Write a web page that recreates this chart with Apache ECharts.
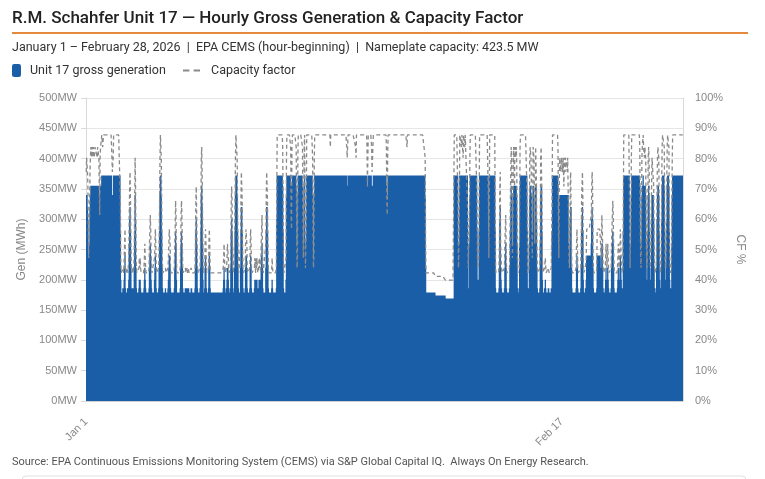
<!DOCTYPE html>
<html>
<head>
<meta charset="utf-8">
<title>R.M. Schahfer Unit 17</title>
<script src="https://cdn.jsdelivr.net/npm/echarts@6/dist/echarts.min.js"></script>
<style>
  html, body { margin: 0; padding: 0; background: #fff; }
  #main { width: 765px; height: 479px; }
</style>
</head>
<body>
<div id="main"></div>
<script>
// nameplate used for capacity factor
const NAMEPLATE_MW = 423.5;
const START_DAY = Date.UTC(2026, 0, 1);

// hourly generation, one letter per hour, one string per day
// letter -> MW via levelMW
const levelCodes = 'yzabcdefghijkl';
const levelMW = [169, 174, 179, 186, 200, 220, 240, 260, 280, 300, 320, 340, 355, 372];
const dayProfiles = [
  'ijjiheccfijkkjkkjkkjjkkk', // Jan 1
  'kkjkkkjhfjkkkllkklllllll',
  'llllllllllllljiijlllllll',
  'lllllllllgcaaaabbacdebaa',
  'aabaacfhigdbaabaabdgjhdb',
  'aaaaabcbcbaaaaaaabcdcbaa',
  'aaaaabdefecbaaaaaacdedba',
  'aaaabdgjlljgdbaaaaaabaaa',
  'aabcdeedbaaaaaaaabdegfca',
  'aaaaaaabdfgfdbaaaaabbaab',
  'aabbaaaaabbaaaaaaabdghfd', // Jan 11
  'baaaaabdgjkifcaaabdedbaa',
  'aabdedbaaaaaaaaaaaaaaaaa',
  'aaaaaaaaaaaaabcdcbaaabcd',
  'dcbaaabdghgdbaaadgjllljg',
  'dbaaaadgiigdbaaaabdeedba',
  'aaaabdedbaaaaaabcbacbcba',
  'abcbcbadefdbaaaaaadgiigd',
  'baaaaaaabcbaaaaaaaabhlll',
  'llllllllllkgbaaaaacjllll',
  'lllllkfeklllllllllkfbcjl', // Jan 21
  'lllllllllkfcfklfbbflllll',
  'llllllllljebcjllllllllll',
  'llllllllllllllllllllllll',
  'lllkllllllllllllllllllll',
  'llllllllllllllllllkjklll',
  'lllllllllllllllkjlllllll',
  'llllllllllllllllllkhjlll',
  'lllllkiiklllllllllllllll',
  'llllllllllllllllkgfjllll',
  'llllllllllllllllllllllll', // Jan 31
  'lllllllllllllllllkllllll', // Feb 1
  'llllllllllllllllllllllll',
  'lllllllllllljdaaaaaaaaaa',
  'aaaaaaaaaaaazzzzzzzzzzzz',
  'zzzzzzzzzzzzyyyyyyyyyyyy',
  'yyyyyyyyylllllllllfbbfll',
  'llkllljlllkllllllfbbbfjl',
  'lllllllllllllllgcbbcglll',
  'llllllllllllllllllgcglll',
  'llllllllllgbaaaaaaabdhid', // Feb 10
  'cbaaaaaabdefdbaaaaaabdgi',
  'kjfcfjkkhkkjkjfbaaabfkll',
  'llllllllllllllgbaabfjkkj',
  'jfcgkkjgdgkkhdbaaaaabfjk',
  'kgcaaaabbcbaaaaabbaaaaab',
  'bglllllllllllllkfchjjjij',
  'jjijjhjjijjjjijjfcbdhiid', // Feb 17
  'baaaaaaaaabdedbaaaaaabdg',
  'higcaaaabbceeeeeeeeeeefh',
  'ihdbaaaaaaabeeeeeeeedcdf', // Feb 20
  'fdbaaaabcdcbcdcbaaaaabde',
  'fgfdbaaaaaaabcdcbcdedcba',
  'abgllllllllllllllfbbfjll',
  'lllllllllllllllllkfcbfjk',
  'klkkjkkjfcbcgjkjgcbbdhjj',
  'jjhdbaaabdhjkkjgcbabdhkl',
  'lllkgcbbdhklllkgcbaabfjl',
  'llllllllllllllllllllllll'  // Feb 28
];

// axis ticks
const genAxisMax = 500;
const genAxisStep = 50;
const cfAxisMax = 100;
const cfAxisStep = 10;

const MONTHS = ['Jan', 'Feb', 'Mar'];
const hourLabels = [];
const genMW = [];
const cfPct = [];
dayProfiles.forEach(function (day, d) {
  for (let h = 0; h < 24; h++) {
    const t = new Date(START_DAY + (d * 24 + h) * 3600000);
    hourLabels.push(MONTHS[t.getUTCMonth()] + ' ' + t.getUTCDate());
    const mw = levelMW[levelCodes.indexOf(day.charAt(h))];
    genMW.push(mw);
    cfPct.push(+(mw / NAMEPLATE_MW * 100).toFixed(1));
  }
});

const FONT = 'Roboto, "Liberation Sans", sans-serif';
const AXFONT = '"Liberation Sans", Arial, sans-serif';
// two short dashes for the capacity factor legend
const DASH_ICON = 'path://M0,0H6V2H0Z M10,0H16V2H10Z';

const myChart = echarts.init(document.getElementById('main'));
const option = {
  backgroundColor: '#fff',
  animation: false,
  title: [
    {
      text: 'R.M. Schahfer Unit 17 \u2014 Hourly Gross Generation & Capacity Factor',
      left: 12, top: 10, padding: 0,
      textStyle: {fontFamily: FONT, fontSize: 17, fontWeight: 500, color: '#222'},
    },
    {
      text: 'January 1 \u2013 February 28, 2026  |  EPA CEMS (hour-beginning)  |  Nameplate capacity: 423.5 MW',
      left: 12, top: 41, padding: 0,
      textStyle: {fontFamily: FONT, fontSize: 12.5, fontWeight: 'normal', color: '#333'},
    },
    {
      text: 'Source: EPA Continuous Emissions Monitoring System (CEMS) via S&P Global Capital IQ.  Always On Energy Research.',
      left: 12, top: 457, padding: 0,
      textStyle: {fontFamily: FONT, fontSize: 11, fontWeight: 'normal', color: '#555'},
    },
  ],
  graphic: [
    {type: 'line', shape: {x1: 12, y1: 33, x2: 748, y2: 33}, style: {stroke: '#e58a3c', lineWidth: 2}},
    {type: 'rect', shape: {x: 22, y: 476, width: 724, height: 20, r: 4}, style: {fill: 'none', stroke: '#e2e2e2', lineWidth: 1}},
  ],
  legend: [
    {
      data: [{name: 'Unit 17 gross generation', icon: 'roundRect'}],
      left: 12, top: 64, padding: 0,
      itemWidth: 9, itemHeight: 13,
      textStyle: {fontFamily: FONT, fontSize: 12.5, color: '#333', padding: [0, 0, 0, 4]},
    },
    {
      data: [{name: 'Capacity factor', icon: DASH_ICON, itemStyle: {color: '#8a8a8a'}}],
      left: 183, top: 64, padding: 0,
      itemWidth: 17, itemHeight: 13,
      textStyle: {fontFamily: FONT, fontSize: 12.5, color: '#333', padding: [0, 0, 0, 6]},
    },
  ],
  grid: {left: 86, right: 82, top: 98, bottom: 78},
  xAxis: {
    type: 'category',
    data: hourLabels,
    boundaryGap: true,
    axisLine: {show: true, lineStyle: {color: '#d0d0d0'}},
    axisTick: {show: false},
    axisLabel: {
      interval: 1127,
      rotate: 45,
      margin: 19,
      color: '#888',
      fontFamily: AXFONT,
      fontSize: 11,
    },
    splitLine: {show: false},
  },
  yAxis: [
    {
      type: 'value',
      min: 0, max: genAxisMax, interval: genAxisStep,
      name: 'Gen (MWh)',
      nameLocation: 'middle',
      nameGap: 58,
      nameRotate: 90,
      nameTextStyle: {color: '#888', fontFamily: AXFONT, fontSize: 12},
      axisLine: {show: true, lineStyle: {color: '#d9d9d9'}},
      axisTick: {show: true, length: 5, lineStyle: {color: '#d9d9d9'}},
      axisLabel: {formatter: '{value}MW', color: '#888', fontFamily: AXFONT, fontSize: 11, margin: 9},
      splitLine: {lineStyle: {color: '#e6e6e6'}},
    },
    {
      type: 'value',
      min: 0, max: cfAxisMax, interval: cfAxisStep,
      name: 'CF %',
      nameLocation: 'middle',
      nameGap: 45,
      nameRotate: -90,
      nameTextStyle: {color: '#888', fontFamily: AXFONT, fontSize: 12},
      axisLine: {show: true, lineStyle: {color: '#d9d9d9'}},
      axisTick: {show: false},
      axisLabel: {formatter: '{value}%', color: '#888', fontFamily: AXFONT, fontSize: 11, margin: 12},
      splitLine: {show: false},
    },
  ],
  series: [
    {
      name: 'Unit 17 gross generation',
      type: 'bar',
      yAxisIndex: 0,
      data: genMW,
      barWidth: 1.3,
      large: true,
      largeThreshold: 400,
      itemStyle: {color: '#1b5ea8'},
    },
    {
      name: 'Capacity factor',
      type: 'line',
      yAxisIndex: 1,
      data: cfPct,
      symbol: 'none',
      showSymbol: false,
      lineStyle: {color: '#8a8a8a', width: 1.3, type: [4, 3]},
      itemStyle: {color: '#8a8a8a'},
      z: 3,
    },
  ],
};
myChart.setOption(option);
</script>
</body>
</html>
